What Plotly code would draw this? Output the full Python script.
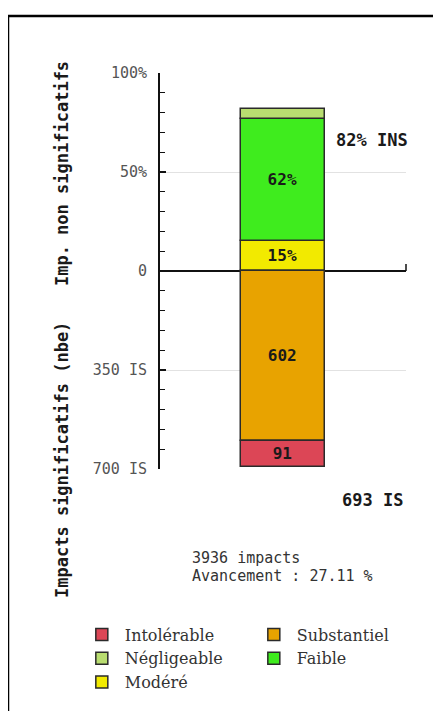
import plotly.graph_objects as go

# ---- data ----
pct_names = ["Modéré", "Faible", "Négligeable"]          # positive side (% INS)
pct_values = [15, 62, 5]
pct_labels = ["15%", "62%", ""]
pct_colors = ["#f2ea00", "#3fec1e", "#b9dd70"]

cnt_names = ["Substantiel", "Intolérable"]               # negative side (IS count)
cnt_values = [602, 91]
cnt_labels = ["602", "91"]
cnt_colors = ["#e8a300", "#dc4656"]

legend_order = ["Intolérable", "Substantiel", "Négligeable", "Faible", "Modéré"]

tick_pct = [100, 50, 0]
tick_cnt = [350, 700]
tick_text = ["100%", "50%", "0", "350 IS", "700 IS"]
cnt_max = 700

ins_text = "82% INS"
is_text = "693 IS"
info_lines = ["3936 impacts", "Avancement : 27.11 %"]
title_top = "Imp. non significatifs"
title_bot = "Impacts significatifs (nbe)"

# one axis: top half in %, bottom half in counts scaled so cnt_max <-> -100
def cnt_to_axis(v):
    return -v * 100.0 / cnt_max

MONO = "DejaVu Sans Mono"
SERIF = "DejaVu Serif"
bar_font = dict(family=MONO, size=16, color="#1a1a1a", weight="bold")

fig = go.Figure()
for n, v, t, c in zip(pct_names, pct_values, pct_labels, pct_colors):
    fig.add_trace(go.Bar(
        x=[5], y=[v], name=n, width=3.45, text=[t],
        textposition="inside", insidetextanchor="middle", textangle=0,
        textfont=bar_font,
        marker=dict(color=c, line=dict(color="#2a2a2a", width=1.5)),
        legendrank=legend_order.index(n) + 1,
    ))
for n, v, t, c in zip(cnt_names, cnt_values, cnt_labels, cnt_colors):
    fig.add_trace(go.Bar(
        x=[5], y=[cnt_to_axis(v)], name=n, width=3.45, text=[t],
        textposition="inside", insidetextanchor="middle", textangle=0,
        textfont=bar_font,
        marker=dict(color=c, line=dict(color="#2a2a2a", width=1.5)),
        legendrank=legend_order.index(n) + 1,
    ))

tickvals = tick_pct + [cnt_to_axis(v) for v in tick_cnt]

fig.update_layout(
    width=441, height=711,
    margin=dict(l=152, r=43, t=65, b=250),
    paper_bgcolor="white", plot_bgcolor="white",
    barmode="relative",
    bargap=0,
    xaxis=dict(visible=False, range=[0, 10], fixedrange=True),
    yaxis=dict(
        range=[-100, 100], tickvals=tickvals, ticktext=tick_text,
        tickfont=dict(family=MONO, size=15, color="#555555"),
        showline=True, linecolor="#111111", linewidth=2,
        ticks="inside", ticklen=6, tickwidth=1.5, tickcolor="#111111",
        ticklabelstandoff=8,
        minor=dict(dtick=10, tick0=0, ticks="inside", ticklen=5, tickwidth=1.2,
                   tickcolor="#111111", showgrid=False),
        showgrid=True, gridcolor="#e2e2e2", gridwidth=1,
        zeroline=True, zerolinecolor="#111111", zerolinewidth=1.5,
    ),
    showlegend=True,
    legend=dict(
        orientation="h", x=-0.33, xanchor="left", y=-0.375, yanchor="top",
        entrywidth=121, entrywidthmode="pixels", itemwidth=36,
        font=dict(family=SERIF, size=16, color="#333333"),
        traceorder="normal", itemclick=False, itemdoubleclick=False,
        bgcolor="rgba(0,0,0,0)",
    ),
)

# frame
fig.add_shape(type="rect", xref="paper", yref="paper",
              x0=(8 - 160) / 246, x1=2.0, y0=-2.0, y1=1 + (73 - 16) / 396,
              line=dict(color="black", width=2.5), fillcolor="rgba(0,0,0,0)", layer="below")
# small tick at right end of zero line
fig.add_shape(type="line", xref="paper", yref="y", x0=1, x1=1, y0=0, y1=3.5,
              line=dict(color="#111111", width=1.5))

ann_bold = dict(family=MONO, size=17, color="#1a1a1a", weight="bold")
fig.add_annotation(text=ins_text, xref="x", yref="y", x=8.6, y=66, showarrow=False,
                   xanchor="center", yanchor="middle", font=ann_bold)
fig.add_annotation(text=is_text, xref="x", yref="paper", x=8.65, y=-0.078, showarrow=False,
                   xanchor="center", yanchor="middle", font=ann_bold)
info_font = dict(family=MONO, size=15, color="#333333")
for i, line in enumerate(info_lines):
    fig.add_annotation(text=line, xref="paper", yref="paper",
                       x=0.122, y=-0.225 - i * 0.045, xanchor="left", yanchor="middle",
                       align="left", showarrow=False, font=info_font)
title_font = dict(family=MONO, size=17, color="#1a1a1a", weight="bold")
fig.add_annotation(text=title_top, xref="paper", yref="paper", x=-0.398, y=0.745,
                   xanchor="center", yanchor="middle",
                   textangle=-90, showarrow=False, font=title_font)
fig.add_annotation(text=title_bot, xref="paper", yref="paper", x=-0.398, y=0.023,
                   xanchor="center", yanchor="middle",
                   textangle=-90, showarrow=False, font=title_font)

fig.write_html("out.html")
